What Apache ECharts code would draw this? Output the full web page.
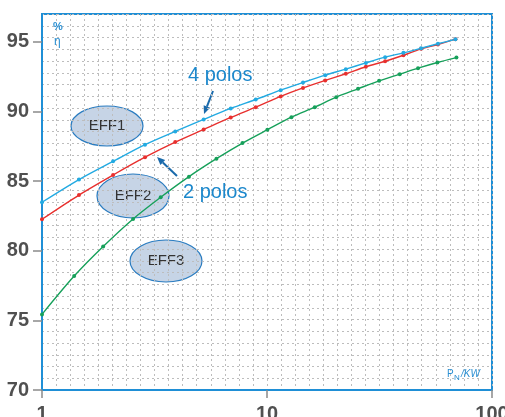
<!DOCTYPE html>
<html>
<head>
<meta charset="utf-8">
<script src="https://cdn.jsdelivr.net/npm/echarts@6/dist/echarts.min.js"></script>
<style>
  html, body { margin: 0; padding: 0; background: #fff; }
  #chart { width: 505px; height: 417px; }
</style>
</head>
<body>
<div id="chart"></div>
<script>
// Rated output P_N in kW for the points of each efficiency curve
const kwPolos4 = [1.0, 1.46, 2.07, 2.87, 3.91, 5.23, 6.90, 8.91, 11.5, 14.45, 18.15, 22.4, 27.5, 33.5, 40.4, 48.4, 57.5, 68.8];
const effPolos4 = [83.48, 85.11, 86.42, 87.62, 88.57, 89.43, 90.22, 90.86, 91.53, 92.08, 92.61, 93.04, 93.49, 93.90, 94.21, 94.54, 94.86, 95.19];

const kwPolos2 = [1.0, 1.46, 2.07, 2.87, 3.91, 5.23, 6.90, 8.91, 11.5, 14.45, 18.15, 22.4, 27.5, 33.5, 40.4, 48.4, 57.5, 68.8];
const effPolos2 = [82.26, 84.0, 85.44, 86.72, 87.8, 88.71, 89.57, 90.31, 91.08, 91.69, 92.23, 92.71, 93.21, 93.61, 94.04, 94.5, 94.81, 95.19];

const kwEff23 = [1.0, 1.39, 1.87, 2.54, 3.37, 4.50, 5.96, 7.78, 10.04, 12.84, 16.3, 20.3, 25.4, 31.5, 38.9, 46.9, 57.2, 69.5];
const effEff23 = [75.43, 78.18, 80.3, 82.28, 83.84, 85.32, 86.61, 87.73, 88.69, 89.59, 90.31, 91.03, 91.63, 92.2, 92.68, 93.11, 93.52, 93.87];

const yTicks = [70, 75, 80, 85, 90, 95];
const xTicks = [1, 10, 100];

const frameBlue = '#1f8fd6';
const labelGray = '#505050';
const font = '"Liberation Sans", Arial, sans-serif';

function pairs(xs, ys) { return xs.map((x, i) => [x, ys[i]]); }

function curve(name, xs, ys, color) {
  return {
    name: name, type: 'line', xAxisIndex: 0, yAxisIndex: 0,
    data: pairs(xs, ys), smooth: 0.3,
    symbol: 'circle', symbolSize: 4, showSymbol: true,
    lineStyle: { color: color, width: 1.4 },
    itemStyle: { color: color },
    z: 5, silent: true
  };
}

function ellipse(cx, cy, rx, ry, label) {
  return {
    type: 'group', z: 20,
    children: [
      { type: 'ellipse', shape: { cx: cx, cy: cy, rx: rx, ry: ry },
        style: { fill: '#c6d4e6', stroke: '#2a7cc0', lineWidth: 1.2 } },
      { type: 'text', x: cx, y: cy,
        style: { text: label, fill: '#333', font: '15px "Liberation Sans Narrow", "Liberation Sans", sans-serif',
                 align: 'center', verticalAlign: 'middle' } }
    ]
  };
}

function arrow(x1, y1, x2, y2, color) {
  const dx = x2 - x1, dy = y2 - y1;
  const len = Math.sqrt(dx * dx + dy * dy);
  const ux = dx / len, uy = dy / len;
  const hl = 8, hw = 3.5;
  const bx = x2 - ux * hl, by = y2 - uy * hl;
  return {
    type: 'group', z: 20,
    children: [
      { type: 'line', shape: { x1: x1, y1: y1, x2: bx, y2: by },
        style: { stroke: color, lineWidth: 2 } },
      { type: 'polygon', shape: { points: [[x2, y2], [bx - uy * hw, by + ux * hw], [bx + uy * hw, by - ux * hw]] },
        style: { fill: color } }
    ]
  };
}

const chart = echarts.init(document.getElementById('chart'), null, { renderer: 'canvas' });

const paperLine = { show: true, lineStyle: { color: '#bdbdbd', width: 1, type: [2, 3] } };

chart.setOption({
  animation: false,
  backgroundColor: '#ffffff',
  grid: { left: 42, right: 13, top: 14, bottom: 27, containLabel: false, outerBoundsMode: 'none',
          show: true, borderColor: frameBlue, borderWidth: 2, backgroundColor: 'transparent' },
  xAxis: [
    {
      type: 'log', logBase: 10, min: 1, max: 100,
      axisLine: { show: true, lineStyle: { color: frameBlue, width: 2 } },
      axisTick: { show: true, length: 8, lineStyle: { color: '#8a8a8a', width: 1.5 } },
      minorTick: { show: false },
      splitLine: { show: false },
      axisLabel: { show: true, color: labelGray, fontSize: 20, fontWeight: 'bold', fontFamily: font, margin: 14,
                   formatter: v => (xTicks.indexOf(Math.round(v)) >= 0 ? String(Math.round(v)) : '') }
    },
    {
      type: 'value', min: 0, max: 32, interval: 1, position: 'top',
      axisLine: { show: false }, axisTick: { show: false }, axisLabel: { show: false },
      splitLine: paperLine
    }
  ],
  yAxis: [
    {
      type: 'value', min: 70, max: 97,
      axisLine: { show: true, lineStyle: { color: frameBlue, width: 2 } },
      axisTick: { show: true, length: 9, customValues: yTicks, lineStyle: { color: '#8a8a8a', width: 1.5 } },
      splitLine: { show: false },
      axisLabel: { show: true, customValues: yTicks, color: labelGray, fontSize: 20, fontWeight: 'bold', fontFamily: font, margin: 13,
                   verticalAlign: 'middle' }
    },
    {
      type: 'value', min: 0, max: 32, interval: 1, position: 'right',
      axisLine: { show: false }, axisTick: { show: false }, axisLabel: { show: false },
      splitLine: paperLine
    }
  ],
  series: [
    { type: 'line', xAxisIndex: 1, yAxisIndex: 1, data: [], silent: true },
    curve('EFF2/EFF3', kwEff23, effEff23, '#16a05a'),
    curve('2 polos', kwPolos2, effPolos2, '#e8302e'),
    curve('4 polos', kwPolos4, effPolos4, '#22aae2')
  ],
  graphic: [
    ellipse(107, 126, 36, 20, 'EFF1'),
    ellipse(133, 196, 36, 22, 'EFF2'),
    ellipse(166, 261, 36, 21, 'EFF3'),
    { type: 'text', x: 188, y: 75, z: 20,
      style: { text: '4 polos', fill: '#1c88cc', font: '20px ' + font, verticalAlign: 'middle' } },
    { type: 'text', x: 183, y: 192, z: 20,
      style: { text: '2 polos', fill: '#1c88cc', font: '20px ' + font, verticalAlign: 'middle' } },
    arrow(213, 91, 204, 114, '#1a6aab'),
    arrow(177, 176, 157, 157, '#1a6aab'),
    { type: 'text', x: 53, y: 27, z: 20,
      style: { text: '%', fill: '#2a8fd2', font: 'bold 11px ' + font, verticalAlign: 'middle' } },
    { type: 'text', x: 54, y: 42, z: 20,
      style: { text: 'η', fill: '#2a8fd2', font: '12px ' + font, verticalAlign: 'middle' } },
    { type: 'text', x: 447, y: 374, z: 20,
      style: { text: 'P', fill: '#2a8fd2', font: '10px ' + font, verticalAlign: 'middle' } },
    { type: 'text', x: 454, y: 378, z: 20,
      style: { text: 'N', fill: '#2a8fd2', font: '8px ' + font, verticalAlign: 'middle' } },
    { type: 'text', x: 461, y: 374, z: 20,
      style: { text: '/KW', fill: '#2a8fd2', font: 'italic 10px ' + font, verticalAlign: 'middle' } }
  ]
});
</script>
</body>
</html>
